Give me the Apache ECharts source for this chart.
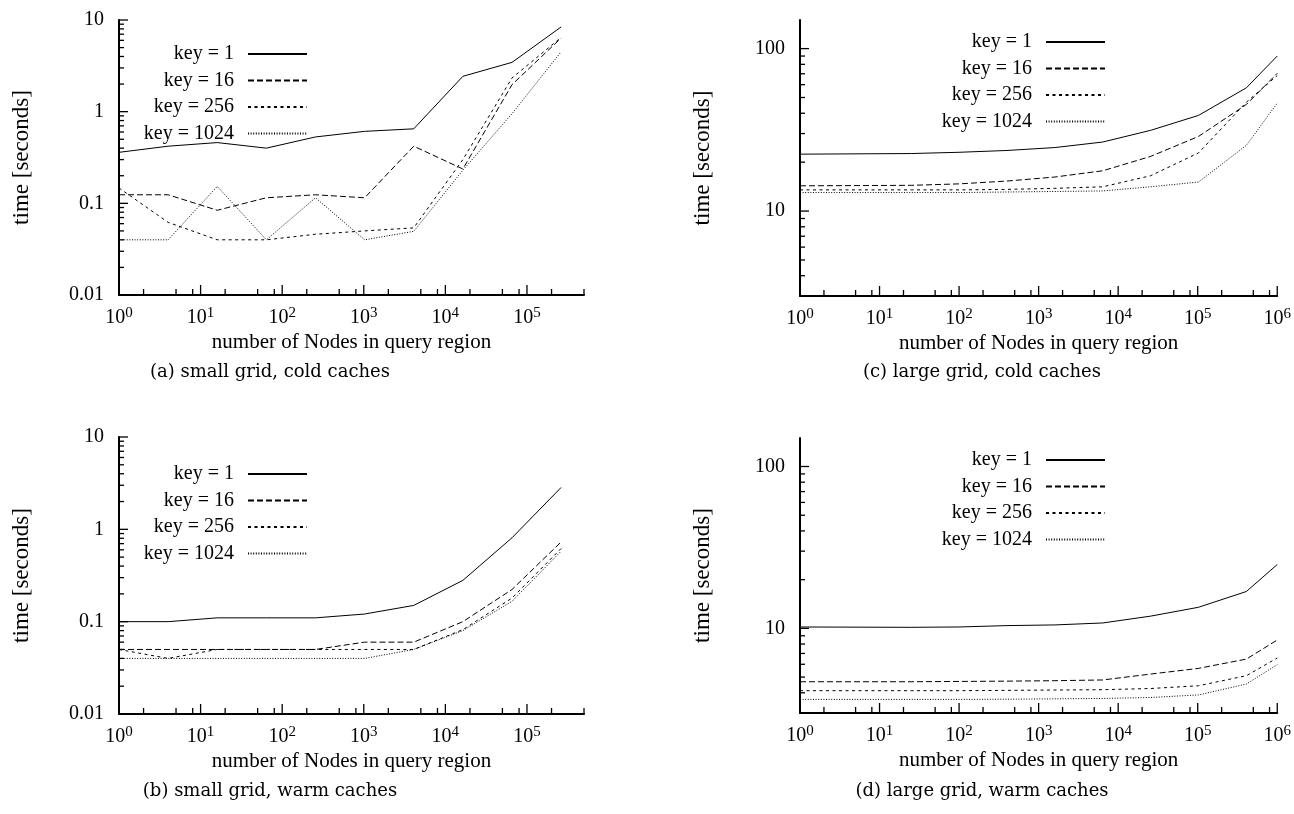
<!DOCTYPE html>
<html>
<head>
<meta charset="utf-8">
<script src="https://cdn.jsdelivr.net/npm/echarts@6/dist/echarts.min.js"></script>
<style>
  html, body { margin: 0; padding: 0; background: #fff; }
  #chart { width: 1294px; height: 814px; }
</style>
</head>
<body>
<div id="chart"></div>
<script>
// query region sizes (number of nodes)
const smallX = [1, 4, 16, 64, 256, 1024, 4096, 16384, 65536, 262144];
const largeX = [1, 25, 100, 400, 1600, 6400, 25600, 102400, 409600, 1000000];

const keyNames = ['key = 1', 'key = 16', 'key = 256', 'key = 1024'];

// (a) small grid, cold caches
const smallCold1 = [0.36, 0.42, 0.46, 0.40, 0.53, 0.61, 0.65, 2.43, 3.45, 8.4];
const smallCold16 = [0.124, 0.124, 0.084, 0.115, 0.124, 0.115, 0.42, 0.237, 1.97, 6.36];
const smallCold256 = [0.147, 0.062, 0.040, 0.040, 0.046, 0.050, 0.054, 0.30, 2.33, 6.46];
const smallCold1024 = [0.04, 0.04, 0.153, 0.04, 0.115, 0.04, 0.0495, 0.23, 0.95, 4.5];

// (b) small grid, warm caches
const smallWarm1 = [0.1, 0.1, 0.11, 0.11, 0.11, 0.121, 0.15, 0.28, 0.81, 2.84];
const smallWarm16 = [0.05, 0.05, 0.05, 0.05, 0.05, 0.06, 0.06, 0.1, 0.223, 0.73];
const smallWarm256 = [0.05, 0.04, 0.05, 0.05, 0.05, 0.05, 0.05, 0.082, 0.18, 0.62];
const smallWarm1024 = [0.04, 0.04, 0.04, 0.04, 0.04, 0.04, 0.05, 0.08, 0.166, 0.58];

// (c) large grid, cold caches
const largeCold1 = [22.4, 22.6, 23, 23.6, 24.6, 26.6, 31.4, 38.8, 57.4, 90];
const largeCold16 = [14.3, 14.4, 14.7, 15.3, 16.2, 17.7, 21.7, 28.8, 45.3, 70.5];
const largeCold256 = [13.5, 13.5, 13.5, 13.6, 13.8, 14.1, 16.5, 22.8, 46.8, 68.3];
const largeCold1024 = [13.0, 13.0, 13.0, 13.1, 13.2, 13.3, 14.1, 15.1, 25.4, 46.2];

// (d) large grid, warm caches
const largeWarm1 = [10.2, 10.15, 10.2, 10.4, 10.5, 10.8, 11.9, 13.5, 16.9, 24.8];
const largeWarm16 = [4.68, 4.68, 4.7, 4.72, 4.75, 4.8, 5.22, 5.66, 6.46, 8.48];
const largeWarm256 = [4.12, 4.12, 4.12, 4.14, 4.16, 4.18, 4.25, 4.42, 5.1, 6.56];
const largeWarm1024 = [3.64, 3.64, 3.64, 3.65, 3.67, 3.69, 3.74, 3.88, 4.53, 5.97];

const captions = [
  '(a) small grid, cold caches',
  '(b) small grid, warm caches',
  '(c) large grid, cold caches',
  '(d) large grid, warm caches'
];

const FONT = '"Liberation Serif", "Times New Roman", serif';
const CAPTION_FONT = '"DejaVu Serif", serif';

// dash patterns for the four keys
const dashes = ['solid', [6, 3], [3, 3.5], [1, 1.6]];

const panels = [
  { x: smallX, ys: [smallCold1, smallCold16, smallCold256, smallCold1024],
    xMin: 1, xMax: 5e5, yMin: 0.01, yMax: 10,
    grid: { left: 119, top: 20, width: 465, height: 275 },
    legendRight: 986, legendTop: 44, caption: { x: 270, y: 372 } },
  { x: smallX, ys: [smallWarm1, smallWarm16, smallWarm256, smallWarm1024],
    xMin: 1, xMax: 5e5, yMin: 0.01, yMax: 10,
    grid: { left: 119, top: 437, width: 465, height: 277 },
    legendRight: 986, legendTop: 464, caption: { x: 270, y: 791 } },
  { x: largeX, ys: [largeCold1, largeCold16, largeCold256, largeCold1024],
    xMin: 1, xMax: 1e6, yMin: 3, yMax: 150,
    grid: { left: 800, top: 20, width: 478, height: 276 },
    legendRight: 188, legendTop: 32, caption: { x: 982, y: 372 } },
  { x: largeX, ys: [largeWarm1, largeWarm16, largeWarm256, largeWarm1024],
    xMin: 1, xMax: 1e6, yMin: 3, yMax: 150,
    grid: { left: 800, top: 438, width: 478, height: 275 },
    legendRight: 188, legendTop: 450, caption: { x: 982, y: 791 } }
];

const isDecade = (v) => Math.abs(Math.log10(v) - Math.round(Math.log10(v))) < 1e-6;

const xLabel = (v) => {
  if (!isDecade(v)) return '';
  return '10{sup|' + Math.round(Math.log10(v)) + '}';
};

const yLabel = (v) => {
  if (!isDecade(v)) return '';
  const e = Math.round(Math.log10(v));
  if (e >= 0) return String(Math.pow(10, e));
  return '0.' + '0'.repeat(-e - 1) + '1';
};

// tick marks (gnuplot style, pointing inward)
const buildTicks = (p) => {
  const ticks = [];
  for (let d = Math.floor(Math.log10(p.xMin)); d <= Math.ceil(Math.log10(p.xMax)); d++) {
    [1, 2, 5, 8].forEach((m) => {
      const v = m * Math.pow(10, d);
      if (v >= p.xMin * 0.999 && v <= p.xMax * 1.001) ticks.push([v, p.yMin, m === 1 ? 1 : 0]);
    });
  }
  for (let d = Math.floor(Math.log10(p.yMin)); d <= Math.ceil(Math.log10(p.yMax)); d++) {
    for (let m = 1; m <= 9; m++) {
      const v = m * Math.pow(10, d);
      if (v >= p.yMin * 0.999 && v <= p.yMax * 1.001) ticks.push([p.xMin, v, m === 1 ? 3 : 2]);
    }
  }
  return ticks;
};

const renderTick = (params, api) => {
  const pt = api.coord([api.value(0), api.value(1)]);
  const kind = api.value(2);
  let shape;
  if (kind < 2) {
    const len = kind === 1 ? 10 : 6;
    shape = { x1: pt[0], y1: pt[1], x2: pt[0], y2: pt[1] - len };
  } else {
    const len = kind === 3 ? 9 : 5;
    shape = { x1: pt[0], y1: pt[1], x2: pt[0] + len, y2: pt[1] };
  }
  return { type: 'line', shape: shape, style: { stroke: '#000', lineWidth: 1.3 }, silent: true };
};

const grids = [];
const xAxes = [];
const yAxes = [];
const legends = [];
const series = [];
const graphics = [];

panels.forEach((p, i) => {
  grids.push(Object.assign({ containLabel: false }, p.grid));
  xAxes.push({
    type: 'log', logBase: 10, gridIndex: i, min: p.xMin, max: p.xMax,
    name: 'number of Nodes in query region', nameLocation: 'middle', nameGap: 37,
    nameTextStyle: { fontFamily: FONT, fontSize: 21, color: '#000' },
    axisLine: { lineStyle: { color: '#000', width: 2 } },
    axisTick: { show: false }, splitLine: { show: false }, minorTick: { show: false },
    axisLabel: {
      formatter: xLabel, margin: 11, color: '#000', fontFamily: FONT, fontSize: 20, lineHeight: 24,
      rich: { sup: { fontFamily: FONT, fontSize: 15, lineHeight: 15, verticalAlign: 'top', color: '#000' } }
    }
  });
  yAxes.push({
    type: 'log', logBase: 10, gridIndex: i, min: p.yMin, max: p.yMax,
    name: 'time [seconds]', nameLocation: 'middle', nameGap: 86,
    nameTextStyle: { fontFamily: FONT, fontSize: 23, color: '#000' },
    axisLine: { lineStyle: { color: '#000', width: 2 } },
    axisTick: { show: false }, splitLine: { show: false }, minorTick: { show: false },
    axisLabel: { formatter: yLabel, margin: 15, color: '#000', fontFamily: FONT, fontSize: 20 }
  });
  legends.push({
    data: keyNames, orient: 'vertical', align: 'right',
    right: p.legendRight, top: p.legendTop, padding: 0,
    itemWidth: 59, itemHeight: 10, itemGap: 6.5, selectedMode: false,
    itemStyle: { color: 'transparent', borderColor: 'transparent', borderWidth: 0, opacity: 0 },
    textStyle: { fontFamily: FONT, fontSize: 20, color: '#000', lineHeight: 20, padding: [0, 9, 0, 0] }
  });
  p.ys.forEach((ys, j) => {
    series.push({
      type: 'line', name: keyNames[j], xAxisIndex: i, yAxisIndex: i,
      data: p.x.map((x, k) => [x, ys[k]]),
      symbol: 'none', color: '#000',
      lineStyle: { color: '#000', width: 1, type: dashes[j] },
      animation: false
    });
  });
  series.push({
    type: 'custom', name: 'ticks' + i, xAxisIndex: i, yAxisIndex: i,
    dimensions: ['x', 'y', 'kind'], encode: { x: 0, y: 1 },
    data: buildTicks(p), renderItem: renderTick, silent: true, animation: false, z: 5
  });
  graphics.push({
    type: 'text', x: p.caption.x, y: p.caption.y,
    style: { text: captions[i], font: '18px ' + CAPTION_FONT, fill: '#000', align: 'center', verticalAlign: 'middle' }
  });
});

const myChart = echarts.init(document.getElementById('chart'));
myChart.setOption({
  animation: false,
  backgroundColor: '#fff',
  grid: grids,
  xAxis: xAxes,
  yAxis: yAxes,
  legend: legends,
  series: series,
  graphic: graphics
});
</script>
</body>
</html>
